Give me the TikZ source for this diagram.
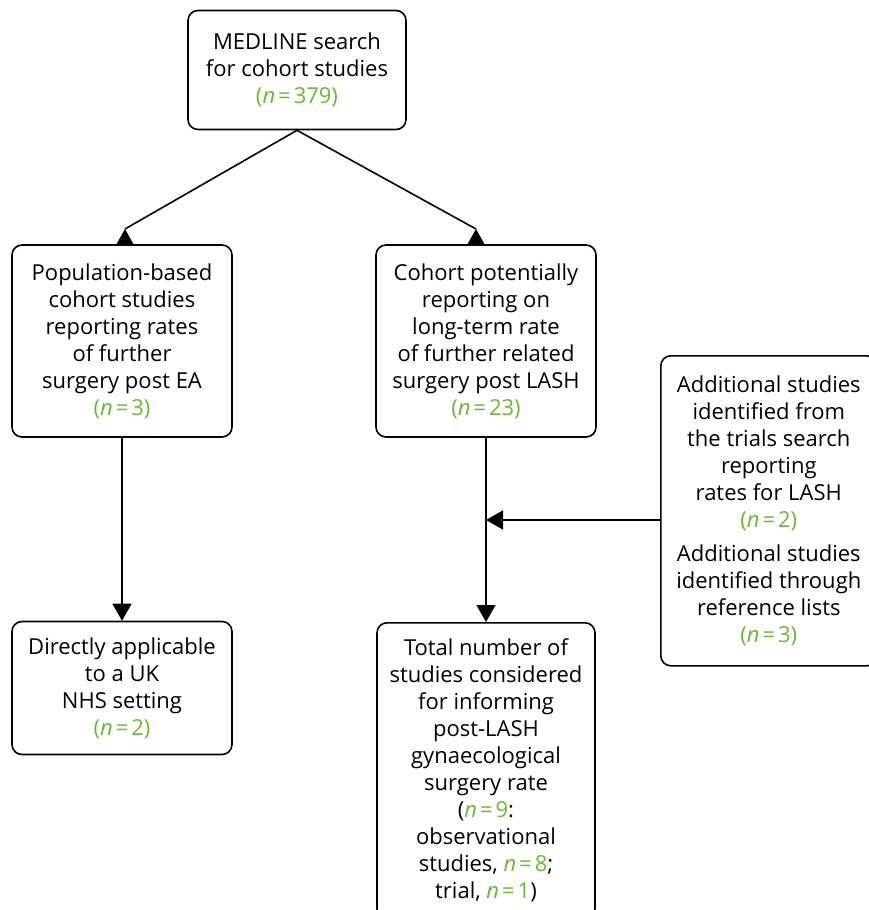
\documentclass[tikz,border=0pt]{standalone}
\usepackage{fontspec}
\setmainfont{Open Sans}
\usetikzlibrary{arrows.meta,positioning,calc}
\definecolor{ngreen}{RGB}{102,187,51}
\newcommand{\ncount}[1]{\textcolor{ngreen}{\textit{n}\kern3pt=\kern3pt#1}}

\begin{document}
\begin{tikzpicture}[x=1pt,y=-1pt,
    box/.style={draw,line width=1.6pt,rounded corners=10pt,align=center,
      font=\fontsize{22}{27}\selectfont,inner sep=0pt},
    arrow/.style={line width=1.6pt,-{Triangle[width=19pt,length=17pt]}}]
    \useasboundingbox (0,0) rectangle (869,910);
    \clip (0,0) rectangle (869,910);

    % Search
    \node[box,minimum width=218pt,minimum height=119pt] (medline) at (297,70)
      {MEDLINE search\\for cohort studies\\\textcolor{ngreen}{(\ncount{379})}};

    % Cohort groups
    \node[box,minimum width=220pt,minimum height=192pt] (pop) at (122,341)
      {Population-based\\cohort studies\\reporting rates\\of further\\surgery post EA\\\textcolor{ngreen}{(\ncount{3})}};
    \node[box,minimum width=220pt,minimum height=192pt] (cohort) at (486,341)
      {Cohort potentially\\reporting on\\long-term rate\\of further related\\surgery post LASH\\\textcolor{ngreen}{(\ncount{23})}};

    % Extra sources
    \node[box,anchor=north west,minimum width=216pt,minimum height=310pt] (addl) at (660,355)
      {Additional studies\\identified from\\the trials search\\reporting\\rates for LASH\\\textcolor{ngreen}{(\ncount{2})}\\[7pt]
       Additional studies\\identified through\\reference lists\\\textcolor{ngreen}{(\ncount{3})}};

    % Outcomes
    \node[box,minimum width=220pt,minimum height=133pt] (direct) at (122,688)
      {Directly applicable\\to a UK\\NHS setting\\\textcolor{ngreen}{(\ncount{2})}};
    \node[box,anchor=north,minimum width=218pt,minimum height=296pt] (total) at (486,622)
      {Total number of\\studies considered\\for informing\\post-LASH\\gynaecological\\surgery rate\\(\ncount{9}:\\observational\\studies, \ncount{8};\\trial, \ncount{1})};

    % Split
    \coordinate (popTip) at (125,229);
    \coordinate (cohTip) at (476,229);
    \draw[line width=1.6pt] (medline.south) -- (popTip);
    \draw[line width=1.6pt] (medline.south) -- (cohTip);
    \fill (popTip) -- ++(-9,16) -- ++(18,0) -- cycle;
    \fill (cohTip) -- ++(-9,16) -- ++(18,0) -- cycle;

    % Down arrows
    \draw[arrow] (pop) -- (direct);
    \draw[arrow] (cohort) -- (total);

    % Join
    \coordinate (join) at (486,520);
    \draw[arrow] (addl.west |- join) -- (join);
\end{tikzpicture}
\end{document}
